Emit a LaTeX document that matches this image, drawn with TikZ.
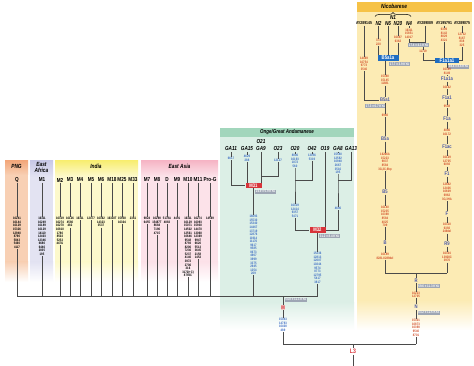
\documentclass[tikz,border=0pt]{standalone}
\usepackage{fontspec}
\setmainfont{Liberation Sans}
\newfontfamily\nar[FakeStretch=0.8]{Liberation Sans}
\usetikzlibrary{calc,decorations.pathreplacing}
\definecolor{linec}{HTML}{4A4A4A}
\definecolor{numblue}{HTML}{3C6CC4}
\definecolor{numred}{HTML}{D24E2A}
\definecolor{gboxc}{HTML}{9EA6B4}
\definecolor{redbox}{HTML}{D8343A}
\definecolor{bluebox}{HTML}{1F6DC2}
\definecolor{hlabc}{HTML}{4A58A8}
\definecolor{mfill}{HTML}{F1C9C6}
\definecolor{pngH}{HTML}{F3A87C}
\definecolor{pngB}{HTML}{F8D0B4}
\definecolor{eafH}{HTML}{C9C9E7}
\definecolor{eafB}{HTML}{E3E3F2}
\definecolor{indH}{HTML}{F8EE74}
\definecolor{indB}{HTML}{FDF9CB}
\definecolor{easH}{HTML}{F6B6C6}
\definecolor{easB}{HTML}{FCE2E9}
\definecolor{ongH}{HTML}{A2D6BC}
\definecolor{ongB}{HTML}{DCEFE6}
\definecolor{nicH}{HTML}{F6C246}
\definecolor{nicB}{HTML}{FCEBB4}
\tikzset{
 lin/.style={draw=linec,line width=0.85pt},
 leaf/.style={font=\nar\bfseries\fontsize{5.8}{6}\selectfont,inner sep=0.5pt},
 leafi/.style={font=\nar\bfseries\itshape\fontsize{5.8}{6}\selectfont,inner sep=0.5pt},
 acc/.style={font=\nar\bfseries\fontsize{4.3}{5}\selectfont,inner sep=0.5pt},
 numk/.style={font=\nar\bfseries\fontsize{3.4}{3.55}\selectfont,align=center,inner sep=0.3pt,anchor=north},
 numb/.style={numk,text=numblue},
 numr/.style={numk,text=numred},
 gbox/.style={fill=gboxc,text=white,font=\nar\bfseries\fontsize{3.6}{4}\selectfont,inner sep=0.7pt,anchor=north west},
 rbox/.style={fill=redbox,text=white,font=\nar\bfseries\fontsize{5.2}{5.5}\selectfont,inner sep=0.8pt,minimum width=16pt},
 bbox/.style={fill=bluebox,text=white,font=\nar\bfseries\fontsize{5.4}{5.6}\selectfont,inner sep=0.8pt},
 hlab/.style={text=hlabc,font=\nar\bfseries\fontsize{5.2}{5.5}\selectfont,inner sep=0.6pt},
 mbox/.style={fill=mfill,text=redbox,font=\nar\bfseries\fontsize{5.2}{5.5}\selectfont,inner sep=0.6pt},
 lthree/.style={text=redbox,font=\nar\bfseries\fontsize{6.5}{7}\selectfont,inner sep=0.8pt},
 hdr/.style={font=\nar\bfseries\itshape\fontsize{6}{6.3}\selectfont,align=center,inner sep=0pt},
}
\newcommand{\mkcol}[4]{%
 \node[leaf] (l#1) at (#2,180) {#3};
 \node[numk] (n#1) at (#2,217) {#4};
 \coordinate (c#1) at (#2,296);
 \draw[lin] (l#1) -- (n#1) -- (c#1);}
\begin{document}
\begin{tikzpicture}[x=1pt,y=-1pt]
\useasboundingbox (0,0) rectangle (474,366);
\fill[white] (0,0) rectangle (474,366);
% ---------- bands ----------
\fill[pngB] (5,161) rectangle (28,262);
\shade[top color=pngB,bottom color=white] (5,262) rectangle (28,282);
\shade[top color=pngH,bottom color=pngB] (5,161) rectangle (28,175);
\fill[eafB] (30,161) rectangle (53,262);
\shade[top color=eafB,bottom color=white] (30,262) rectangle (53,282);
\shade[top color=eafH,bottom color=eafB] (30,161) rectangle (53,177);
\fill[indB] (55,161) rectangle (138,262);
\shade[top color=indB,bottom color=white] (55,262) rectangle (138,282);
\shade[top color=indH,bottom color=indB] (55,161) rectangle (138,176);
\fill[easB] (141,161) rectangle (218,262);
\shade[top color=easB,bottom color=white] (141,262) rectangle (218,282);
\shade[top color=easH,bottom color=easB] (141,161) rectangle (218,176);
\fill[ongB] (220,137) rectangle (354,302);
\shade[top color=ongB,bottom color=white] (220,302) rectangle (354,330);
\fill[ongH] (220,128) rectangle (354,137);
\fill[nicB] (357,12) rectangle (472,300);
\shade[top color=nicB,bottom color=white] (357,300) rectangle (472,330);
\fill[nicH] (357,2) rectangle (472,12);
% ---------- headers ----------
\node[hdr] (hPNG) at (16.5,166) {PNG};
\node[hdr,font=\nar\bfseries\itshape\fontsize{6}{6.6}\selectfont] (hEAf) at (41.5,167.5) {East\\Africa};
\node[hdr] (hInd) at (96,166) {India};
\node[hdr] (hEAs) at (179.5,166) {East Asia};
\node[hdr,font=\nar\bfseries\itshape\fontsize{5.6}{6}\selectfont] (hOng) at (287,132.5) {Onge/Great Andamanese};
\node[hdr] (hNic) at (394,6.5) {Nicobarese};
% ---------- left columns ----------
\mkcol{Q}{17}{Q}{16241\\16144\\16129\\15326\\12940\\8790\\5843\\5460\\4117}
\mkcol{MA}{42}{M1}{16311\\16249\\16189\\16129\\14110\\12403\\12346\\6680\\6446\\2835\\195}
\mkcol{MB}{60}{M2}{16319\\16274\\16270\\10810\\1780\\8502\\5252\\447G}
\mkcol{MC}{70}{M3}{16126\\4580\\482}
\mkcol{MD}{80}{M4}{16311}
\mkcol{ME}{91}{M5}{12477}
\mkcol{MF}{101}{M6}{16362\\14323\\3537}
\mkcol{MG}{112}{M18}{16318T}
\mkcol{MH}{122}{M25}{15938\\16304}
\mkcol{MI}{133}{M33}{2361}
\mkcol{MJ}{147}{M7}{9824\\6455}
\mkcol{MK}{157}{M8}{16298\\15487T\\8684\\7196\\4715}
\mkcol{ML}{167}{D}{5178A\\4883}
\mkcol{MM}{177}{M9}{4491}
\mkcol{MN}{188}{M10}{16311\\16129\\15071\\14502\\12561\\10646\\9548\\8793\\8206\\7236\\5237\\4140\\3972\\2706\\316\\3172(+C)\\8793C}
\mkcol{MO}{198}{M11}{16274\\16093\\15930\\14470\\13068\\12369\\9947\\6620\\5513\\3645\\2158\\1452}
\mkcol{MP}{210}{Pro-G}{14569}
% ---------- Onge / Great Andamanese ----------
\node[leafi] (lO21) at (261,142) {O21};
\node[leafi] (lGA11) at (231,149) {GA11};
\node[leafi] (lGA15) at (247,149) {GA15};
\node[leafi] (lGA9) at (261,149) {GA9};
\node[leafi] (lO23) at (278,149) {O23};
\node[leafi] (lO20) at (295,149) {O20};
\node[leafi] (lO42) at (312,149) {O42};
\node[leafi] (lO19) at (325,149) {O19};
\node[leafi] (lGA8) at (338,149) {GA8};
\node[leafi] (lGA13) at (351,149) {GA13};
\node[numb] (nGA11) at (231,157) {6617};
\node[numb] (nGA15) at (247,155) {4629\\288};
\node[numb] (nO23) at (278,159) {12127};
\node[numb] (nO20) at (295,154) {8806\\16193\\1872\\560};
\node[numb] (nO42) at (312,154) {13056\\5319};
\node[numb] (nGA8) at (338,153) {15580\\12582\\10948\\2667\\3516\\195};
\node[rbox] (bM31) at (253.5,185.5) {M31};
\node[gbox] (gM31) at (255,189.5) {24.9 ± 5.9 KYA};
\coordinate (jO23) at (278,176);
\draw[lin] (lGA11) -- (nGA11) -- (nGA11 |- bM31) -- (bM31);
\draw[lin] (lGA15) -- (nGA15) -- (nGA15 |- bM31.north);
\draw[lin] (lGA9) -- (lGA9 |- bM31.north);
\draw[lin] (lO23) -- (nO23) -- (jO23) -- (lGA9 |- jO23);
\node[numb] (nM31) at (253.5,215) {16093\\15530\\15340\\14467\\13719\\12876\\11914\\11176\\9617\\9585\\8673\\4907\\3999\\3375\\2945\\1254\\209};
\coordinate (cM31) at (253.5,296);
\draw[lin] (bM31) -- (nM31) -- (cM31);
\node[rbox] (bM32) at (317.5,230) {M32};
\node[gbox] (gM32) at (319,234) {31.2 ± 8.4 KYA};
\coordinate (jO20) at (295,180);
\node[numb] (nO20s) at (295,204) {16319\\12414\\9357\\5471};
\draw[lin] (lO20) -- (nO20) -- (jO20) -- (nO20s) -- (nO20s |- bM32) -- (bM32);
\draw[lin] (lO42) -- (nO42) -- (lO42 |- jO20) -- (jO20);
\draw[lin] (lO19) -- (lO19 |- bM32.north);
\coordinate (jGA8) at (338,180);
\node[numb] (nGA8s) at (338,207) {4696};
\draw[lin] (lGA8) -- (nGA8) -- (jGA8) -- (nGA8s) -- (nGA8s |- bM32) -- (bM32);
\draw[lin] (lGA13) -- (lGA13 |- jGA8) -- (jGA8);
\node[numb] (nM32) at (317.5,252) {15236\\12813\\12007\\10244\\9574\\8773\\12795\\5417\\3817};
\coordinate (cM32) at (317.5,296);
\draw[lin] (bM32) -- (nM32) -- (cM32);
% ---------- M ----------
\draw[lin] (cQ) -- (cM32);
\coordinate (cM) at (283,296);
\node[gbox] (gM) at (284.5,297.5) {54.8 ± 11.1 KYA};
\node[mbox] (bM) at (283,307.5) {M};
\node[numb] (nM) at (283,318) {15043\\14783\\10400\\489};
\coordinate (cMb) at (283,344);
\draw[lin] (cM) -- (bM) -- (nM) -- (cMb);
% ---------- L3 ----------
\coordinate (cN) at (416,344);
\draw[lin] (cMb) -- (cN);
\node[lthree] (L3) at (353,351.5) {L3};
\coordinate (cL3t) at (353,344);
\coordinate (cL3b) at (353,366);
\draw[lin] (cL3t) -- (L3) -- (cL3b);
% ---------- R / N ----------
\node[hlab] (lN) at (416,307) {N};
\node[gbox] (gN) at (417.5,310.5) {63.2 ± 12.5 KYA};
\node[numr] (nN) at (416,319) {15301\\10873\\10398\\9540\\8701};
\node[hlab] (lR) at (416,280.5) {R};
\node[gbox] (gR) at (417.5,284) {59.6 ± 11.3 KYA};
\node[numr] (nR) at (416,291.5) {16223\\12705};
\coordinate (jR) at (416,273);
\draw[lin] (cN) -- (nN) -- (lN) -- (nR) -- (lR) -- (jR);
\coordinate (jB) at (385,273);
\coordinate (jR9) at (447,273);
\draw[lin] (jB) -- (jR9);
% ---------- Nicobarese leaves ----------
\draw[draw=black,line width=0.5pt,decorate,decoration={brace,amplitude=4pt}] (375,16.5) -- (411,16.5);
\node[leafi] (lN1) at (393,17.5) {N1};
\node[acc] (lA1) at (364,23.5) {AY289145};
\node[leafi] (lN2) at (378.5,23.5) {N2};
\node[leafi] (lN6) at (388,23.5) {N6};
\node[leafi] (lN20) at (398,23.5) {N20};
\node[leafi] (lN4) at (409,23.5) {N4};
\node[acc] (lA2) at (425,23.5) {AY289089};
\node[acc] (lA3) at (444,23.5) {AY195791};
\node[acc] (lA4) at (462,23.5) {AY289075};
\node[numr] (nA1) at (364,57) {14469\\16754\\9773\\3546};
\node[numr] (nN2) at (378.5,39) {373\\220};
\node[numr] (nN20) at (398,36) {16497\\6362};
\node[numr] (nN4) at (409,28.5) {16311\\15851\\14017};
\node[numr] (nA3) at (444,28) {6309\\8142\\8829\\4321};
\node[numr] (nA4) at (462,33) {12732\\8167\\838\\325};
% B5a1a box
\node[bbox,minimum width=21pt] (bB5) at (388,58) {B5a1a};
\node[gbox] (gB5) at (389,62) {17.7 ± 3.9 KYA};
\draw[lin] (lN2) -- (nN2) -- (nN2 |- bB5.north);
\draw[lin] (lN6) -- (lN6 |- bB5.north);
\draw[lin] (lN20) -- (nN20) -- (nN20 |- bB5.north);
% F1a1a1 box
\node[bbox,minimum width=24pt] (bF) at (447,60.5) {F1a1a1};
\node[gbox] (gF) at (448,64.5) {38.4 ± 8.6 KYA};
\coordinate (jN4) at (425,42);
\draw[lin] (lN4) -- (nN4) -- (lN4 |- jN4) -- (jN4) -- (lA2);
\node[gbox] (gN4) at (408,43) {17.4 ± 4.1 KYA};
\node[numr] (nN4s) at (423,50) {11719};
\draw[lin] (gN4.south -| nN4s) -- (nN4s) -- (nN4s |- bF) -- (bF);
\draw[lin] (lA3) -- (nA3) -- (nA3 |- bF.north);
\draw[lin] (lA4) -- (nA4) -- (nA4 |- bF) -- (bF);
% B column
\node[hlab] (lB5a1) at (385,100) {B5a1};
\node[gbox] (gB5a1) at (365,104) {17.3 ± 6.7 KYA};
\draw[lin] (lA1) -- (nA1) -- (nA1 |- lB5a1) -- (lB5a1);
\node[numr] (nB5a1a) at (385,75) {15380\\15145\\11881};
\node[numr] (nB5a1) at (385,114) {6960};
\node[hlab] (lB5a) at (385,139) {B5a};
\node[numr] (nB5a) at (385,153) {16266A\\15223\\9837\\8584\\3G,3C,9bp};
\node[hlab] (lB5) at (385,192) {B5};
\node[numr] (nB5x) at (385,206) {16140\\15235\\10398\\8584\\4025\\709};
\node[hlab] (lB) at (385,243) {B};
\node[numr] (nB) at (385,253) {16189\\8281-8289del};
\draw[lin] (bB5.south -| nB5a1a) -- (nB5a1a) -- (lB5a1) -- (nB5a1) -- (lB5a) -- (nB5a) -- (lB5) -- (nB5x) -- (lB) -- (nB) -- (jB);
% F column
\node[numr] (nF1) at (447,68) {16399\\8149};
\node[hlab] (lF1a1a) at (447,79) {F1a1a};
\node[numr] (nF2) at (447,86) {16162};
\node[hlab] (lF1a1) at (447,97.5) {F1a1};
\node[numr] (nF3) at (447,105) {9548};
\node[hlab] (lF1a) at (447,119) {F1a};
\node[numr] (nF4) at (447,129) {4086\\16172};
\node[hlab] (lF1ac) at (447,147) {F1ac};
\node[numr] (nF5) at (447,156) {16129\\12705\\6092};
\node[hlab] (lF1) at (447,174) {F1};
\node[numr] (nF6) at (447,183) {12882\\12406\\10609\\6962\\3G,3HA};
\node[hlab] (lFF) at (447,214) {F};
\node[numr] (nF7) at (447,223) {10310\\6392\\249del};
\node[hlab] (lR9) at (447,244) {R9};
\node[numr] (nR9) at (447,252) {16304\\13928C\\3970};
\draw[lin] (bF) -- (nF1) -- (lF1a1a) -- (nF2) -- (lF1a1) -- (nF3) -- (lF1a) -- (nF4) -- (lF1ac) -- (nF5) -- (lF1) -- (nF6) -- (lFF) -- (nF7) -- (lR9) -- (nR9) -- (jR9);
\end{tikzpicture}
\end{document}
